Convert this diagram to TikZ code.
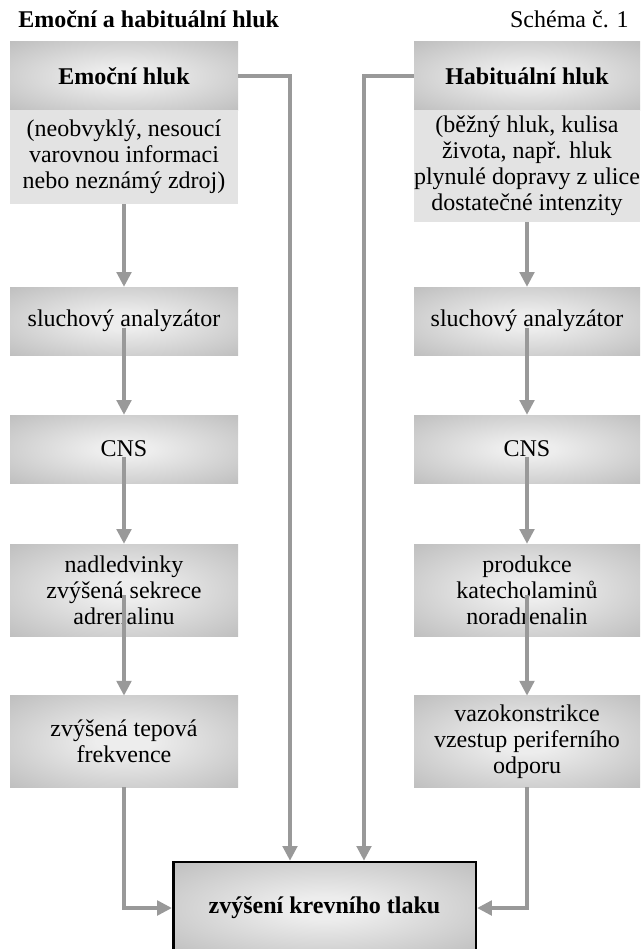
\documentclass[tikz,border=0pt]{standalone}
\usepackage{fontspec}
\setmainfont{Liberation Serif}
\usetikzlibrary{arrows.meta}
\pgfdeclareradialshading[boxin,boxout]{boxshade}{\pgfpointorigin}{color(0bp)=(boxin); color(6bp)=(boxin); color(50bp)=(boxout); color(72bp)=(boxout)}
\colorlet{boxin}{gray!14}
\colorlet{boxout}{gray!68}
\begin{document}
\begin{tikzpicture}[x=0.75pt,y=-0.75pt,
    shbox/.style={shading=boxshade,inner sep=0pt,align=center},
    flatbox/.style={fill=gray!22,inner sep=0pt,align=center},
    arr/.style={gray!80,line width=2.3pt,-{Triangle[width=11pt,length=11pt]}}]
    \useasboundingbox (0,0) rectangle (640,949);
    \clip (0,0) rectangle (640,949);
    \fontsize{18}{19.5}\selectfont
    % titles
    \node[anchor=base west] (title) at (10,28) {\bfseries Emoční a habituální hluk};
    \node[anchor=base east] (schema) at (637,28) {Schéma č. 1};
    % left column
    \node[shbox,minimum width=171pt,minimum height=51pt] (emoh) at (124,76) {\bfseries Emoční hluk};
    \node[flatbox,minimum width=171pt,minimum height=70.5pt] (emod) at (124,157) {(neobvyklý, nesoucí\\varovnou informaci\\nebo neznámý zdroj)};
    \node[shbox,minimum width=171pt,minimum height=51pt] (sa1) at (124,321) {sluchový analyzátor};
    \node[shbox,minimum width=171pt,minimum height=51pt] (cns1) at (124,449) {CNS};
    \node[shbox,minimum width=171pt,minimum height=69pt] (nadl) at (124,590) {nadledvinky\\zvýšená sekrece\\adrenalinu};
    \node[shbox,minimum width=171pt,minimum height=68.5pt] (tep) at (124,741.5) {zvýšená tepová\\frekvence};
    % right column
    \node[shbox,minimum width=169.5pt,minimum height=51pt] (habh) at (527,76) {\bfseries Habituální hluk};
    \node[flatbox,minimum width=169.5pt,minimum height=84pt] (habd) at (527,166) {(běžný hluk, kulisa\\života, např. hluk\\plynulé dopravy z ulice\\dostatečné intenzity};
    \node[shbox,minimum width=169.5pt,minimum height=51pt] (sa2) at (527,321) {sluchový analyzátor};
    \node[shbox,minimum width=169.5pt,minimum height=51pt] (cns2) at (527,449) {CNS};
    \node[shbox,minimum width=169.5pt,minimum height=69pt] (prod) at (527,590) {produkce\\katecholaminů\\noradrenalin};
    \node[shbox,minimum width=169.5pt,minimum height=68.5pt] (vazo) at (527,741.5) {vazokonstrikce\\vzestup periferního\\odporu};
    % result
    \node[shbox,draw=black,line width=2pt,minimum width=227pt,minimum height=69pt] (tlak) at (324.5,908) {\bfseries zvýšení krevního tlaku};
    \coordinate (t1) at (290,0);
    \coordinate (t2) at (364,0);
    % arrows
    \draw[arr] (emod.south) -- (sa1.north);
    \draw[arr] ([yshift=-5pt]sa1.center) -- (cns1.north);
    \draw[arr] ([yshift=-6pt]cns1.center) -- (nadl.north);
    \draw[arr] ([yshift=-4pt]nadl.center) -- (tep.north);
    \draw[arr] (habd.south) -- (sa2.north);
    \draw[arr] ([yshift=-5pt]sa2.center) -- (cns2.north);
    \draw[arr] ([yshift=-6pt]cns2.center) -- (prod.north);
    \draw[arr] ([yshift=-4pt]prod.center) -- (vazo.north);
    \draw[arr] (emoh.east) -| (t1 |- tlak.north);
    \draw[arr] (habh.west) -| (t2 |- tlak.north);
    \draw[arr] (tep.south) |- (tlak.west);
    \draw[arr] (vazo.south) |- (tlak.east);
\end{tikzpicture}
\end{document}
